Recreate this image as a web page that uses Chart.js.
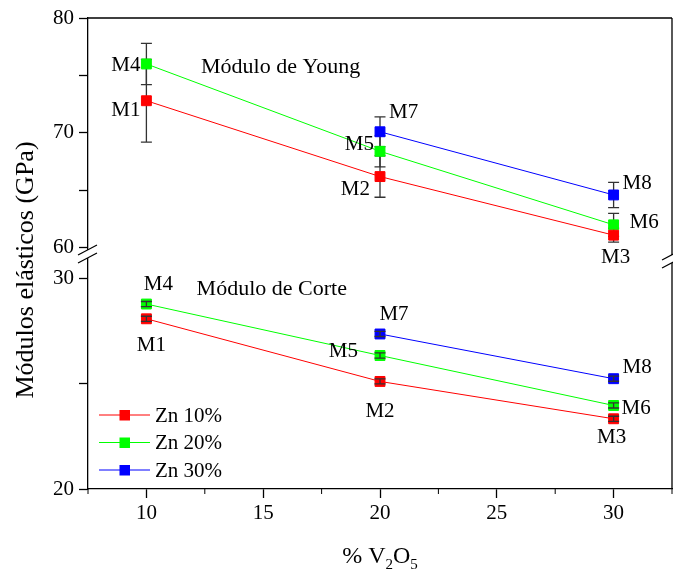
<!DOCTYPE html>
<html>
<head>
<meta charset="utf-8">
<script src="https://cdn.jsdelivr.net/npm/chart.js@4.4.0/dist/chart.umd.min.js"></script>
<style>
    html, body { margin: 0; padding: 0; background: #fff; overflow: hidden; }
    #wrap { width: 680px; height: 573px; }
</style>
</head>
<body>
<div id="wrap"><canvas id="moduliChart" width="680" height="573"></canvas></div>
<script>
// x values (% V2O5) and series
const vanadiumPct = [10, 20, 30];
const seriesNames = ['Zn 10%', 'Zn 20%', 'Zn 30%'];
const seriesColors = ['#ff0000', '#00ff00', '#0000ff'];
const sampleNames = [['M1', 'M2', 'M3'], ['M4', 'M5', 'M6'], [null, 'M7', 'M8']];

// Young modulus (GPa) and errors
const youngZn10 = [72.8, 66.2, 61.1];
const youngZn20 = [76.0, 68.4, 62.0];
const youngZn30 = [null, 70.1, 64.6];
const youngErrZn10 = [3.6, 1.8, 0.6];
const youngErrZn20 = [1.8, 1.35, 1.0];
const youngErrZn30 = [null, 1.3, 1.1];

// Shear modulus (GPa) and errors
const shearZn10 = [28.07, 25.1, 23.33];
const shearZn20 = [28.77, 26.33, 23.96];
const shearZn30 = [null, 27.35, 25.23];
const shearErrZn10 = [0.12, 0.12, 0.12];
const shearErrZn20 = [0.12, 0.12, 0.12];
const shearErrZn30 = [null, 0.12, 0.12];

// ticks
const xTicks = [10, 15, 20, 25, 30];
const xMinorTicks = [7.5, 12.5, 17.5, 22.5, 27.5, 32.5];
const youngTicks = [60, 65, 70, 75, 80];
const shearTicks = [20, 25, 30];

const serif = 'Liberation Serif, Times New Roman, serif';

const youngSets = [youngZn10, youngZn20, youngZn30];
const youngErrs = [youngErrZn10, youngErrZn20, youngErrZn30];
const shearSets = [shearZn10, shearZn20, shearZn30];
const shearErrs = [shearErrZn10, shearErrZn20, shearErrZn30];

// label placement around points: [dx, dy, align]
const labelOffsets = {
    yYoung: {
        M1: [-6, 10, 'right'], M2: [-10, 13, 'right'], M3: [2, 22, 'center'],
        M4: [-6, 2, 'right'], M5: [-6, -7, 'right'], M6: [16, -2, 'left'],
        M7: [9, -19, 'left'], M8: [9, -11, 'left']
    },
    yShear: {
        M1: [5, 27, 'center'], M2: [0, 30, 'center'], M3: [-2, 19, 'center'],
        M4: [12, -20, 'center'], M5: [-22, -4, 'right'], M6: [8, 3, 'left'],
        M7: [14, -19, 'center'], M8: [9, -11, 'left']
    }
};

function makeSet(label, values, color, axis) {
    return {
        label: label,
        yAxisID: axis,
        data: vanadiumPct.map((x, i) => ({ x: x, y: values[i] })).filter(p => p.y !== null),
        borderColor: color,
        backgroundColor: color,
        borderWidth: 1,
        pointStyle: 'rect',
        pointRadius: 7,
        pointHoverRadius: 7,
        pointBorderWidth: 1,
        fill: false,
        tension: 0
    };
}

const datasets = [];
seriesNames.forEach((name, i) => datasets.push(makeSet(name, youngSets[i], seriesColors[i], 'yYoung')));
seriesNames.forEach((name, i) => datasets.push(makeSet(name, shearSets[i], seriesColors[i], 'yShear')));

function drawErrorBars(chart, axisId, sets, errs) {
    const ctx = chart.ctx;
    const xs = chart.scales.x, ys = chart.scales[axisId];
    ctx.save();
    ctx.strokeStyle = '#333';
    ctx.lineWidth = 1.3;
    sets.forEach((vals, s) => {
        vals.forEach((v, i) => {
            const e = errs[s][i];
            if (v === null || e === null) return;
            const px = xs.getPixelForValue(vanadiumPct[i]);
            const top = ys.getPixelForValue(v + e);
            const bot = ys.getPixelForValue(v - e);
            ctx.beginPath();
            ctx.moveTo(px, top); ctx.lineTo(px, bot);
            ctx.moveTo(px - 5.5, top); ctx.lineTo(px + 5.5, top);
            ctx.moveTo(px - 5.5, bot); ctx.lineTo(px + 5.5, bot);
            ctx.stroke();
        });
    });
    ctx.restore();
}

function drawBreak(ctx, x, y) {
    ctx.save();
    ctx.fillStyle = '#fff';
    ctx.fillRect(x - 2, y - 4, 4, 8);
    ctx.strokeStyle = '#000';
    ctx.lineWidth = 1.2;
    ctx.beginPath();
    ctx.moveTo(x - 10, y + 1); ctx.lineTo(x + 9, y - 9);
    ctx.moveTo(x - 10, y + 9); ctx.lineTo(x + 9, y - 1);
    ctx.stroke();
    ctx.restore();
}

const decorations = {
    id: 'decorations',
    beforeDatasetsDraw(chart) {
        drawErrorBars(chart, 'yYoung', youngSets, youngErrs);
    },
    afterDatasetsDraw(chart) {
        drawErrorBars(chart, 'yShear', shearSets, shearErrs);
    },
    afterDraw(chart) {
        const ctx = chart.ctx;
        const area = chart.chartArea;
        const xs = chart.scales.x;
        const yY = chart.scales.yYoung, yS = chart.scales.yShear;

        ctx.save();
        // frame top and right
        ctx.strokeStyle = '#000';
        ctx.lineWidth = 1.3;
        ctx.beginPath();
        ctx.moveTo(area.left, area.top); ctx.lineTo(area.right, area.top);
        ctx.moveTo(area.right, area.top); ctx.lineTo(area.right, area.bottom);
        ctx.stroke();

        // minor x ticks
        ctx.lineWidth = 1;
        ctx.beginPath();
        xMinorTicks.forEach(v => {
            const px = xs.getPixelForValue(v);
            ctx.moveTo(px, area.bottom); ctx.lineTo(px, area.bottom + 5);
        });
        ctx.stroke();
        ctx.restore();

        // axis breaks between the two stacked scales
        const by = (yY.bottom + yS.top) / 2 - 3;
        drawBreak(ctx, area.left, by);
        drawBreak(ctx, area.right, by + 5);

        ctx.save();
        ctx.fillStyle = '#000';

        // point labels
        ctx.font = '21px ' + serif;
        ctx.textBaseline = 'middle';
        [['yYoung', youngSets], ['yShear', shearSets]].forEach(([axisId, sets]) => {
            const ys = chart.scales[axisId];
            sets.forEach((vals, s) => {
                vals.forEach((v, i) => {
                    const name = sampleNames[s][i];
                    if (v === null || !name) return;
                    const off = labelOffsets[axisId][name];
                    ctx.textAlign = off[2];
                    ctx.fillText(name, xs.getPixelForValue(vanadiumPct[i]) + off[0], ys.getPixelForValue(v) + off[1]);
                });
            });
        });

        // section titles
        ctx.font = '22px ' + serif;
        ctx.textAlign = 'left';
        ctx.fillText('Módulo de Young', xs.getPixelForValue(12.34), yY.getPixelForValue(75.7));
        ctx.fillText('Módulo de Corte', xs.getPixelForValue(12.15), yS.getPixelForValue(29.45));

        // legend
        ctx.font = '21px ' + serif;
        seriesNames.forEach((name, i) => {
            const ly = 415 + i * 27.5;
            ctx.strokeStyle = seriesColors[i];
            ctx.lineWidth = 1;
            ctx.beginPath();
            ctx.moveTo(99, ly); ctx.lineTo(150, ly);
            ctx.stroke();
            ctx.fillStyle = seriesColors[i];
            ctx.fillRect(119.5, ly - 5, 10.5, 10.5);
            ctx.fillStyle = '#000';
            ctx.textAlign = 'left';
            ctx.fillText(name, 155, ly + 1);
        });

        // y title
        ctx.save();
        ctx.translate(33, 270);
        ctx.rotate(-Math.PI / 2);
        ctx.font = '26px ' + serif;
        ctx.textAlign = 'center';
        ctx.textBaseline = 'alphabetic';
        ctx.fillText('Módulos elásticos (GPa)', 0, 0);
        ctx.restore();

        // x title with subscripts
        const parts = [['% V', 24, 0], ['2', 15, 6], ['O', 24, 0], ['5', 15, 6]];
        ctx.textBaseline = 'alphabetic';
        ctx.textAlign = 'left';
        let total = 0;
        parts.forEach(p => { ctx.font = p[1] + 'px ' + serif; total += ctx.measureText(p[0]).width; });
        let tx = (area.left + area.right) / 2 - total / 2;
        parts.forEach(p => {
            ctx.font = p[1] + 'px ' + serif;
            ctx.fillText(p[0], tx, 563 + p[2]);
            tx += ctx.measureText(p[0]).width;
        });
        ctx.restore();
    }
};

const tickFont = { family: serif, size: 21 };

new Chart(document.getElementById('moduliChart'), {
    type: 'line',
    data: { datasets: datasets },
    options: {
        responsive: false,
        animation: false,
        layout: { padding: { top: 18, right: 5, left: 0, bottom: 0 } },
        plugins: {
            legend: { display: false },
            tooltip: { enabled: false }
        },
        scales: {
            x: {
                type: 'linear',
                position: 'bottom',
                min: 7.5,
                max: 32.5,
                afterBuildTicks: s => { s.ticks = xTicks.map(v => ({ value: v })); },
                afterFit: s => { s.height = 84; },
                grid: { drawOnChartArea: false, tickLength: 9, tickColor: '#000', tickWidth: 1.3 },
                border: { color: '#000', width: 1.3 },
                ticks: { color: '#000', font: tickFont, padding: 3, maxRotation: 0 }
            },
            // stacked scales are placed bottom-up, so the shear one comes first
            yShear: {
                type: 'linear',
                position: 'left',
                stack: 'moduli',
                stackWeight: 232,
                min: 20,
                max: 31,
                afterBuildTicks: s => { s.ticks = shearTicks.map(v => ({ value: v })); },
                afterFit: s => { s.width = 88; },
                grid: { drawOnChartArea: false, tickLength: 9, tickColor: '#000', tickWidth: 1.3 },
                border: { color: '#000', width: 1.3 },
                ticks: { color: '#000', font: tickFont, padding: 5, callback: v => (v % 10 === 0 ? v : '') }
            },
            yYoung: {
                type: 'linear',
                position: 'left',
                stack: 'moduli',
                stackWeight: 239,
                min: 59.2,
                max: 80,
                afterBuildTicks: s => { s.ticks = youngTicks.map(v => ({ value: v })); },
                afterFit: s => { s.width = 88; },
                grid: { drawOnChartArea: false, tickLength: 9, tickColor: '#000', tickWidth: 1.3 },
                border: { color: '#000', width: 1.3 },
                ticks: { color: '#000', font: tickFont, padding: 5, callback: v => (v % 10 === 0 ? v : '') }
            }
        }
    },
    plugins: [decorations]
});
</script>
</body>
</html>
